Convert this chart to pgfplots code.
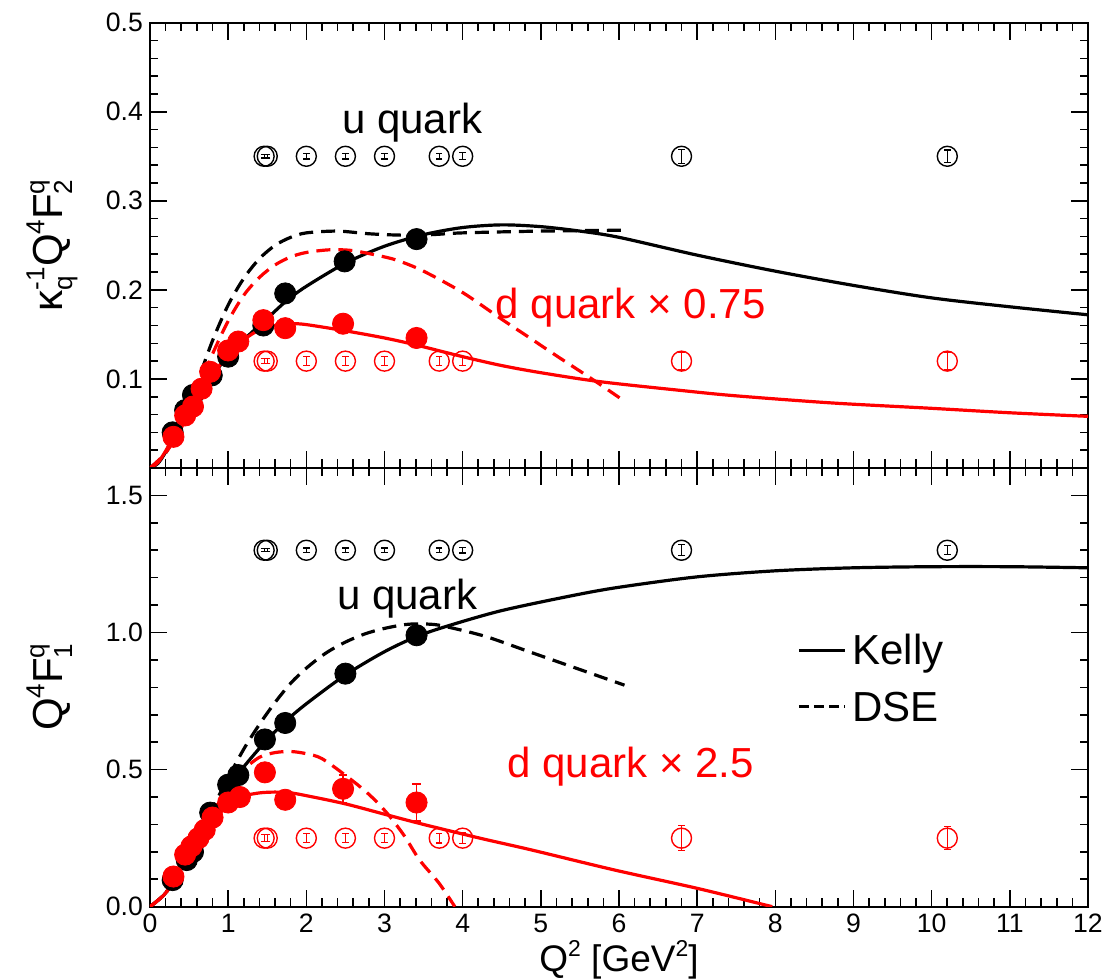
\documentclass[border=0pt]{standalone}
\usepackage{fontspec}
\setmainfont{Liberation Sans}
\usepackage{pgfplots}
\pgfplotsset{compat=1.18}
\definecolor{qred}{RGB}{255,0,0}
\newcommand{\sups}[1]{\raisebox{0.42em}{\scalebox{0.62}{#1}}}
\newcommand{\subs}[1]{\raisebox{-0.24em}{\scalebox{0.62}{#1}}}
\newcommand{\supsub}[2]{\sbox0{\sups{#1}}\sbox2{\subs{#2}}\ifdim\wd0>\wd2\relax\rlap{\usebox2}\usebox0\else\rlap{\usebox0}\usebox2\fi}
\newcommand{\bigfont}{\fontsize{21}{25}\selectfont}
\pgfplotsset{
  panel/.style={
    scale only axis, width=469pt, xmin=0, xmax=12,
    xtick={0,1,...,12}, minor x tick num=4,
    tick align=inside,
    major tick length=8.5pt, minor tick length=4.25pt,
    every tick/.style={black, line width=0.8pt},
    axis line style={line width=1pt},
    tick label style={font=\fontsize{13.3}{16}\selectfont},
    /pgf/number format/assume math mode=true,
    ylabel style={font=\fontsize{21}{25}\selectfont, at={(axis description cs:-0.0938,0.5)}, anchor=base},
  },
  curve/.style={line width=1.6pt, no marks, smooth},
  dcurve/.style={line width=1.6pt, no marks, smooth, dash pattern=on 7pt off 4pt},
  full/.style={only marks, mark=*, mark size=5.3pt},
  open/.style={only marks, mark=o, mark size=5pt, mark options={line width=0.7pt},
    error bars/.cd, y dir=both, y explicit, error bar style={line width=0.6pt},
    error mark options={rotate=90, mark size=1.6pt, line width=0.6pt}, /pgfplots/.cd},
}
\begin{document}
\begin{tikzpicture}
% ---------------- top panel: F2 ----------------
\begin{axis}[panel, name=top, at={(0pt,219.35pt)}, anchor=south west, height=222.65pt,
  ymin=0, ymax=0.5, ytick={0,0.1,0.2,0.3,0.4,0.5}, yticklabels={,0.1,0.2,0.3,0.4,0.5},
  minor y tick num=4, xticklabels={},
  ylabel={κ\supsub{-1}{q}Q\sups{4}F\supsub{q}{2}}]
% Kelly u
\addplot[curve, black] coordinates {(0,0) (0.1,0.005) (0.2,0.018) (0.3,0.036) (0.4,0.053) (0.5,0.068) (0.6,0.081) (0.7,0.093) (0.8,0.104) (1.0,0.126) (1.25,0.148) (1.5,0.168) (1.75,0.188) (2.0,0.204) (2.5,0.230) (3.0,0.249) (3.5,0.262) (4.0,0.270) (4.5,0.273) (5.0,0.271) (5.5,0.266) (6,0.259) (7,0.239) (8,0.221) (9,0.205) (10,0.191) (11,0.181) (12,0.172)};
% DSE u
\addplot[dcurve, black] coordinates {(0,0) (0.2,0.017) (0.4,0.050) (0.6,0.095) (0.8,0.143) (1.0,0.183) (1.2,0.213) (1.4,0.235) (1.6,0.250) (1.8,0.259) (2.0,0.264) (2.4,0.266) (2.8,0.263) (3.2,0.2615) (3.6,0.262) (4,0.264) (5,0.266) (6.07,0.267)};
% DSE d
\addplot[dcurve, qred] coordinates {(0,0) (0.2,0.017) (0.4,0.045) (0.6,0.085) (0.8,0.128) (1.0,0.165) (1.2,0.194) (1.4,0.214) (1.6,0.228) (1.8,0.237) (2.0,0.242) (2.3,0.245) (2.6,0.244) (3.0,0.237) (3.2,0.232) (3.5,0.221) (4.0,0.197) (4.5,0.167) (4.86,0.146) (5.2,0.126) (5.67,0.099) (6.07,0.075)};
% Kelly d
\addplot[curve, qred] coordinates {(0,0) (0.1,0.006) (0.2,0.019) (0.3,0.035) (0.4,0.050) (0.5,0.065) (0.6,0.079) (0.8,0.105) (1.0,0.127) (1.2,0.144) (1.4,0.155) (1.6,0.160) (1.8,0.162) (2.0,0.161) (2.5,0.154) (3.0,0.146) (3.41,0.138) (4,0.125) (4.5,0.115) (5,0.107) (5.75,0.097) (6.8,0.087) (7.5,0.081) (8.73,0.073) (10,0.067) (11,0.062) (12,0.058)};
% data u
\addplot[black, full] coordinates {(0.29,0.040) (0.45,0.065) (0.55,0.082) (0.79,0.104) (1.0,0.125) (1.45,0.160) (1.73,0.196) (2.49,0.232) (3.41,0.257)};
% data d
\addplot[qred, full] coordinates {(0.30,0.035) (0.45,0.059) (0.55,0.069) (0.66,0.089) (0.77,0.108) (1.0,0.132) (1.13,0.142) (1.45,0.166) (1.73,0.157) (2.47,0.162) (3.41,0.146)};
% projected u
\addplot[black, open] coordinates {(1.46,0.35) +- (0,0.002) (1.5,0.35) +- (0,0.002) (2.0,0.35) +- (0,0.003) (2.5,0.35) +- (0,0.003) (3.0,0.35) +- (0,0.003) (3.7,0.35) +- (0,0.003) (4.0,0.35) +- (0,0.004) (6.8,0.35) +- (0,0.008) (10.2,0.35) +- (0,0.007)};
% projected d
\addplot[qred, open] coordinates {(1.46,0.12) +- (0,0.003) (1.5,0.12) +- (0,0.003) (2.0,0.12) +- (0,0.005) (2.5,0.12) +- (0,0.005) (3.0,0.12) +- (0,0.005) (3.7,0.12) +- (0,0.005) (4.0,0.12) +- (0,0.005) (6.8,0.12) +- (0,0.010) (10.2,0.12) +- (0,0.010)};
\node[anchor=base west, inner sep=0pt, font=\bigfont] at (axis cs:2.455,0.3756) {u quark};
\node[anchor=base west, inner sep=0pt, font=\bigfont, text=qred] at (axis cs:4.42,0.168) {d quark × 0.75};
\end{axis}
% ---------------- bottom panel: F1 ----------------
\begin{axis}[panel, name=bot, at={(0pt,0pt)}, anchor=south west, height=219.35pt,
  ymin=0, ymax=1.6, ytick={0,0.5,1,1.5}, yticklabels={0.0,0.5,1.0,1.5},
  minor y tick num=4,
  xlabel={Q\sups{2} [GeV\sups{2}]},
  xlabel style={font=\fontsize{18.5}{22}\selectfont, at={(axis description cs:0.5,-0.148)}, anchor=base},
  ylabel={Q\sups{4}F\supsub{q}{1}}]
% Kelly u
\addplot[curve, black] coordinates {(0,0) (0.2,0.05) (0.4,0.14) (0.6,0.24) (0.8,0.34) (1.0,0.43) (1.2,0.51) (1.47,0.60) (1.73,0.675) (2.0,0.74) (2.5,0.845) (3.0,0.93) (3.41,0.985) (3.81,1.024) (4.5,1.08) (5.41,1.135) (6,1.165) (7,1.203) (8,1.225) (9,1.236) (10,1.24) (11,1.24) (12,1.236)};
% DSE u
\addplot[dcurve, black] coordinates {(0,0) (0.2,0.05) (0.4,0.14) (0.6,0.25) (0.8,0.36) (1.0,0.47) (1.2,0.575) (1.4,0.665) (1.6,0.745) (1.8,0.815) (2.0,0.87) (2.25,0.925) (2.5,0.965) (2.75,0.995) (3.0,1.015) (3.3,1.03) (3.6,1.03) (3.81,1.02) (4.3,0.985) (4.88,0.927) (5.5,0.865) (6.07,0.808)};
% DSE d
\addplot[dcurve, qred] coordinates {(0,0) (0.2,0.05) (0.4,0.14) (0.6,0.245) (0.8,0.345) (1.0,0.43) (1.2,0.50) (1.4,0.545) (1.6,0.562) (1.8,0.566) (2.0,0.558) (2.2,0.54) (2.52,0.475) (2.8,0.41) (3.03,0.342) (3.25,0.26) (3.45,0.17) (3.7,0.085) (3.9,0.0)};
% Kelly d
\addplot[curve, qred] coordinates {(0,0) (0.2,0.05) (0.4,0.14) (0.6,0.23) (0.8,0.31) (1.0,0.37) (1.2,0.403) (1.4,0.415) (1.6,0.418) (1.8,0.415) (2.0,0.405) (2.5,0.375) (3.03,0.335) (3.5,0.30) (4.22,0.25) (4.88,0.207) (5.94,0.134) (7.0,0.067) (7.96,0.0)};
% data u
\addplot[black, full] coordinates {(0.29,0.097) (0.47,0.17) (0.55,0.20) (0.77,0.343) (1.0,0.445) (1.13,0.48) (1.47,0.61) (1.73,0.67) (2.5,0.85) (3.41,0.99)};
% data d
\addplot[qred, full, error bars/.cd, y dir=both, y explicit, error bar style={line width=0.7pt}, error mark options={rotate=90, mark size=2.2pt, line width=0.7pt}] coordinates {(0.3,0.11) +- (0,0) (0.45,0.19) +- (0,0) (0.53,0.22) +- (0,0) (0.62,0.25) +- (0,0) (0.7,0.28) +- (0,0) (0.8,0.325) +- (0,0) (1.0,0.38) +- (0,0) (1.15,0.40) +- (0,0) (1.47,0.49) +- (0,0) (1.73,0.39) +- (0,0) (2.47,0.43) +- (0,0.05) (3.41,0.38) +- (0,0.067)};
% projected u
\addplot[black, open] coordinates {(1.46,1.3) +- (0,0.006) (1.5,1.3) +- (0,0.006) (2.0,1.3) +- (0,0.008) (2.5,1.3) +- (0,0.008) (3.0,1.3) +- (0,0.008) (3.7,1.3) +- (0,0.008) (4.0,1.3) +- (0,0.01) (6.8,1.3) +- (0,0.02) (10.2,1.3) +- (0,0.016)};
% projected d
\addplot[qred, open] coordinates {(1.46,0.25) +- (0,0.012) (1.5,0.25) +- (0,0.012) (2.0,0.25) +- (0,0.016) (2.5,0.25) +- (0,0.016) (3.0,0.25) +- (0,0.016) (3.7,0.25) +- (0,0.018) (4.0,0.25) +- (0,0.02) (6.8,0.25) +- (0,0.045) (10.2,0.25) +- (0,0.042)};
% legend samples
\addplot[black, line width=1.6pt, no marks] coordinates {(8.30,0.933) (8.89,0.933)};
\addplot[black, line width=1.6pt, no marks, dash pattern=on 5pt off 2.6pt] coordinates {(8.30,0.731) (8.89,0.731)};
\node[anchor=base west, inner sep=0pt, font=\bigfont] at (axis cs:8.98,0.884) {Kelly};
\node[anchor=base west, inner sep=0pt, font=\bigfont] at (axis cs:8.98,0.677) {DSE};
\node[anchor=base west, inner sep=0pt, font=\bigfont] at (axis cs:2.39,1.085) {u quark};
\node[anchor=base west, inner sep=0pt, font=\bigfont, text=qred] at (axis cs:4.57,0.47) {d quark × 2.5};
\end{axis}
\pgfresetboundingbox
\path[use as bounding box] (-75pt,-36.65pt) rectangle (477.5pt,453.35pt);
\end{tikzpicture}
\end{document}
